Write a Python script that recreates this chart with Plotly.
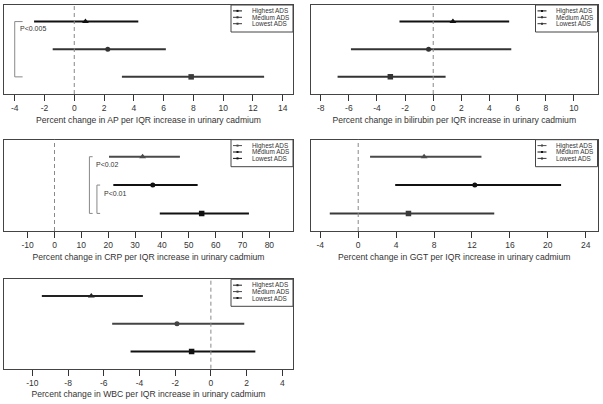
import plotly.graph_objects as go

# ---------------- data ----------------
series = ["Highest ADS", "Medium ADS", "Lowest ADS"]
rows = [3, 2, 1]
symbols = ["triangle-up", "circle", "square"]

ap_est = [0.75, 2.25, 7.85]
ap_lo = [-2.7, -1.45, 3.2]
ap_hi = [4.3, 6.15, 12.75]

bili_est = [1.4, -0.33, -3.05]
bili_lo = [-2.4, -5.85, -6.8]
bili_hi = [5.4, 5.55, 0.88]

crp_est = [32.8, 36.6, 54.8]
crp_lo = [20.3, 21.9, 39.2]
crp_hi = [46.7, 53.3, 72.4]

ggt_est = [6.95, 12.3, 5.3]
ggt_lo = [1.25, 3.9, -3.0]
ggt_hi = [13.0, 21.4, 14.35]

wbc_est = [-6.7, -1.9, -1.08]
wbc_lo = [-9.47, -5.53, -4.5]
wbc_hi = [-3.81, 1.87, 2.49]

ap_ticks = [-4, -2, 0, 2, 4, 6, 8, 10, 12, 14]
bili_ticks = [-8, -6, -4, -2, 0, 2, 4, 6, 8, 10]
crp_ticks = [-10, 0, 10, 20, 30, 40, 50, 60, 70, 80]
ggt_ticks = [-4, 0, 4, 8, 12, 16, 20, 24]
wbc_ticks = [-10, -8, -6, -4, -2, 0, 2, 4]

# ---------------- layout config ----------------
W, H = 603, 404
FONT = "Arial, Liberation Sans, sans-serif"
TXT = "#333333"

panels = [
    dict(name="AP", est=ap_est, lo=ap_lo, hi=ap_hi, ticks=ap_ticks,
         box=(4, 5, 293, 94), xr=[-4.72, 14.69],
         colors=["#111111", "#333333", "#3a3a3a"],
         brackets=[dict(x=-4.0, tx=-3.47, r0=3, r1=1, label="P<0.005", lx=-3.75, ly=2.74)]),
    dict(name="bilirubin", est=bili_est, lo=bili_lo, hi=bili_hi, ticks=bili_ticks,
         box=(311, 5, 597.5, 94), xr=[-8.69, 11.68],
         colors=["#111111", "#333333", "#333333"], brackets=[]),
    dict(name="CRP", est=crp_est, lo=crp_lo, hi=crp_hi, ticks=crp_ticks,
         box=(4, 139.7, 293, 231), xr=[-18.8, 88.8],
         colors=["#4a4a4a", "#111111", "#111111"],
         brackets=[dict(x=13.0, tx=14.2, r0=3, r1=1, label="P<0.02", lx=14.6, ly=2.71),
                   dict(x=15.8, tx=17.0, r0=2, r1=1, label="P<0.01", lx=17.5, ly=1.72)]),
    dict(name="GGT", est=ggt_est, lo=ggt_lo, hi=ggt_hi, ticks=ggt_ticks,
         box=(311, 139.7, 597.5, 231), xr=[-4.98, 25.24],
         colors=["#4a4a4a", "#111111", "#3a3a3a"], brackets=[]),
    dict(name="WBC", est=wbc_est, lo=wbc_lo, hi=wbc_hi, ticks=wbc_ticks,
         box=(4, 279.3, 293, 368.7), xr=[-11.59, 4.6],
         colors=["#222222", "#444444", "#111111"], brackets=[]),
]

YR = [0.38, 3.6]

fig = go.Figure()
shapes = []
annotations = []
layout = dict(
    width=W, height=H, margin=dict(l=0, r=0, t=0, b=0),
    paper_bgcolor="white", plot_bgcolor="white",
    showlegend=False, font=dict(family=FONT, color=TXT, size=8.5),
)

for i, p in enumerate(panels):
    k = "" if i == 0 else str(i + 1)
    xa, ya = "x" + k, "y" + k
    x0, y0, x1, y1 = p["box"]
    layout["xaxis" + k] = dict(
        domain=[x0 / W, x1 / W], range=p["xr"], anchor=ya,
        tickmode="array", tickvals=p["ticks"], ticktext=[str(t) for t in p["ticks"]],
        ticks="outside", ticklen=6, tickcolor=TXT, tickwidth=1,
        showline=True, linecolor="#444444", linewidth=1, mirror=True,
        showgrid=False, zeroline=False, automargin=False,
        tickfont=dict(size=8.5, color=TXT, family=FONT),
        title=dict(text="Percent change in %s per IQR increase in urinary cadmium" % p["name"],
                   font=dict(size=8.6, color=TXT, family=FONT), standoff=4),
    )
    layout["yaxis" + k] = dict(
        domain=[1 - y1 / H, 1 - y0 / H], range=YR, anchor=xa,
        showticklabels=False, ticks="", showgrid=False, zeroline=False,
        showline=True, linecolor="#444444", linewidth=1, mirror=True, automargin=False,
    )

    # dashed zero reference line
    shapes.append(dict(type="line", xref=xa, yref=ya + " domain", x0=0, x1=0, y0=0, y1=1,
                       line=dict(color="#888888", width=1, dash="4px,3px")))

    for j in range(3):
        e = p["est"][j]
        fig.add_trace(go.Scatter(
            x=[e], y=[rows[j]], xaxis=xa, yaxis=ya, mode="markers",
            name=series[j],
            marker=dict(symbol=symbols[j], size=[6, 5, 5.5][j], color=p["colors"][j]),
            error_x=dict(type="data", symmetric=False,
                         array=[p["hi"][j] - e], arrayminus=[e - p["lo"][j]],
                         width=0, thickness=2, color=p["colors"][j]),
        ))

    for b in p["brackets"]:
        shapes.append(dict(type="path", xref=xa, yref=ya,
                           path="M %g,%g L %g,%g L %g,%g L %g,%g" % (b["tx"], b["r0"], b["x"], b["r0"],
                                                                     b["x"], b["r1"], b["tx"], b["r1"]),
                           line=dict(color="#888888", width=1)))
        annotations.append(dict(xref=xa, yref=ya, x=b["lx"], y=b["ly"], text=b["label"],
                                showarrow=False, xanchor="left", yanchor="middle",
                                font=dict(size=7, color=TXT, family=FONT)))

    # legend box (drawn in the panel's domain coordinates)
    pw, ph = x1 - x0, y1 - y0
    lw, lh = 62, 27
    dx = lambda px: px / pw
    dy = lambda py: py / ph
    shapes.append(dict(type="rect", xref=xa + " domain", yref=ya + " domain",
                       x0=1 - dx(lw), x1=1, y0=1 - dy(lh), y1=1,
                       line=dict(color="#444444", width=1), fillcolor="white"))
    for j in range(3):
        yy = 1 - dy(5.9 + 6.4 * j)
        lx0 = 1 - dx(lw - 2)
        lx1 = 1 - dx(lw - 11)
        shapes.append(dict(type="line", xref=xa + " domain", yref=ya + " domain",
                           x0=lx0, x1=lx1, y0=yy, y1=yy,
                           line=dict(color=p["colors"][j], width=1)))
        mx = (lx0 + lx1) / 2
        shapes.append(dict(type="rect", xref=xa + " domain", yref=ya + " domain",
                           x0=mx - dx(1), x1=mx + dx(1), y0=yy - dy(1), y1=yy + dy(1),
                           line=dict(width=0), fillcolor=p["colors"][j]))
        annotations.append(dict(xref=xa + " domain", yref=ya + " domain",
                                x=1 - dx(lw - 18.5), y=yy, text=series[j], showarrow=False,
                                xanchor="left", yanchor="middle",
                                font=dict(size=6.4, color=TXT, family=FONT)))

layout["shapes"] = shapes
layout["annotations"] = annotations
fig.update_layout(**layout)
fig.write_html("out.html", config={"displayModeBar": False},
               post_script="document.body.style.margin='0';document.body.style.overflow='hidden';")
